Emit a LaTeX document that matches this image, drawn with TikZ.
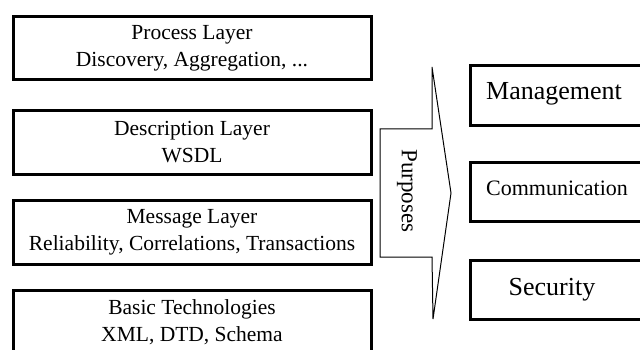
\documentclass[tikz,border=0pt]{standalone}
\usepackage{fontspec}
\setmainfont{Liberation Serif}
\begin{document}
\begin{tikzpicture}[x=1pt, y=-1pt,
    capa/.style={draw, line width=3pt, minimum width=358pt, minimum height=63.5pt,
      inner sep=0pt, align=center, font=\fontsize{21.5}{27}\selectfont},
    meta/.style={draw, line width=3pt, minimum width=200pt, inner sep=0pt},
    rotulo/.style={anchor=base, inner sep=0pt}]
  % Marco de la figura
  \useasboundingbox (0,0) rectangle (640,350);
  \clip (0,0) rectangle (640,350);

  % Capas de la pila
  \node[capa] (proceso) at (192,48.25) {Process Layer\\Discovery, Aggregation, ...};
  \node[capa] (descripcion) at (192,142.5) {Description Layer\\WSDL};
  \node[capa] (mensaje) at (192,232.5) {Message Layer\\Reliability, Correlations, Transactions};
  \node[capa] (basica) at (192,321.75) {Basic Technologies\\XML, DTD, Schema};

  % Flecha de propositos
  \draw[line width=1pt] (380,129) -- (432,129) -- (432,67) -- (451,193)
    -- (433,319) -- (432,257) -- (380,257) -- cycle;
  \node[rotate=-90, font=\fontsize{23}{27}\selectfont] (propositos) at (407,191) {Purposes};

  % Objetivos a la derecha
  \node[meta, minimum height=60pt] (gestion) at (570,96) {};
  \node[meta, minimum height=58pt] (comunicacion) at (570,192) {};
  \node[meta, minimum height=59pt] (seguridad) at (570,289.5) {};
  \node[rotulo, font=\fontsize{26}{30}\selectfont] (gestiontxt) at (554,100) {Management};
  \node[rotulo, font=\fontsize{22}{26}\selectfont] (comunicaciontxt) at (557,195) {Communication};
  \node[rotulo, font=\fontsize{26}{30}\selectfont] (seguridadtxt) at (552,295) {Security};
\end{tikzpicture}
\end{document}
